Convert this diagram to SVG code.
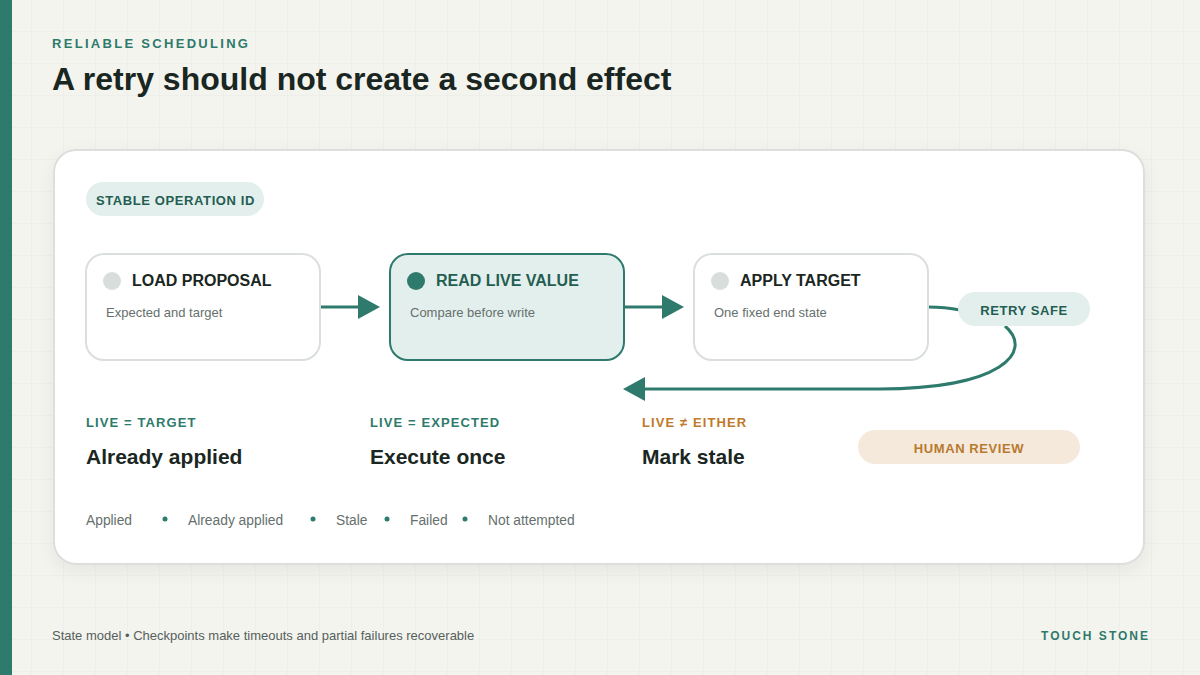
<svg xmlns="http://www.w3.org/2000/svg" width="1200" height="675" viewBox="0 0 1200 675">
<defs>
<pattern id="grid" width="32" height="32" patternUnits="userSpaceOnUse">
<path d="M32 0V32M0 32H32" fill="none" stroke="#e9ebe4" stroke-width="1"/>
</pattern>
<filter id="shadow" x="-10%" y="-10%" width="120%" height="130%">
<feDropShadow dx="0" dy="6" stdDeviation="8" flood-color="#1a2622" flood-opacity="0.06"/>
</filter>
<marker id="arrow" viewBox="0 0 22 24" refX="0" refY="12" markerWidth="22" markerHeight="24" markerUnits="userSpaceOnUse" orient="auto">
<path d="M0 0L22 12L0 24Z" fill="#2e7a6c"/>
</marker>
<style>
text{font-family:"Liberation Sans",Arial,sans-serif}
.kicker{font-size:13px;font-weight:700;letter-spacing:2.3px;fill:#2e7a6c}
.title{font-size:32px;font-weight:700;fill:#1a2622}
.node{fill:#fff;stroke:#dadfdc;stroke-width:2}
.node.active{fill:#e3efec;stroke:#2e7a6c}
.ntitle{font-size:16px;font-weight:700;fill:#1a2622}
.active .ntitle{fill:#245e52}
.nsub{font-size:13px;fill:#66706c}
.pill{fill:#e3efec}
.ptext{font-size:13px;font-weight:700;fill:#245e52;letter-spacing:0.6px}
.conn{fill:none;stroke:#2e7a6c;stroke-width:3}
.clabel{font-size:13px;font-weight:700;letter-spacing:1.1px;fill:#2e7a6c}
.clabel.warn{fill:#c07a2a}
.cvalue{font-size:21px;font-weight:700;fill:#1a2622}
.list{font-size:13.8px;fill:#66706c}
.dot{fill:#2e7a6c}
</style>
</defs>
<rect width="1200" height="675" fill="#f4f4ef"/>
<rect width="1200" height="675" fill="url(#grid)"/>
<rect x="0" y="0" width="12" height="675" fill="#2e7a6c"/>

<text x="52" y="48" class="kicker">RELIABLE SCHEDULING</text>
<text x="52" y="90" class="title">A retry should not create a second effect</text>

<rect x="54" y="150" width="1090" height="414" rx="22" fill="#fff" stroke="#dcdfdb" stroke-width="2" filter="url(#shadow)"/>

<g id="stable-id">
<rect x="86" y="182" width="178" height="34" rx="17" class="pill"/>
<text x="96" y="205" class="ptext">STABLE OPERATION ID</text>
</g>

<g id="connectors">
<path d="M320 307H358" class="conn" marker-end="url(#arrow)"/>
<path d="M624 307H662" class="conn" marker-end="url(#arrow)"/>
<path d="M928 307C942 307 950 308 960 310" class="conn"/>
<path d="M1005 326C1035 352 1000 389 880 389H645" class="conn" marker-end="url(#arrow)"/>
</g>

<g id="load-proposal">
<rect x="86" y="254" width="234" height="106" rx="18" class="node"/>
<circle cx="112" cy="281" r="9" fill="#d8dedb"/>
<text x="132" y="286" class="ntitle">LOAD PROPOSAL</text>
<text x="106" y="317" class="nsub">Expected and target</text>
</g>

<g id="read-live-value" class="active">
<rect x="390" y="254" width="234" height="106" rx="18" class="node active"/>
<circle cx="416" cy="281" r="9" fill="#2e7a6c"/>
<text x="436" y="286" class="ntitle">READ LIVE VALUE</text>
<text x="410" y="317" class="nsub">Compare before write</text>
</g>

<g id="apply-target">
<rect x="694" y="254" width="234" height="106" rx="18" class="node"/>
<circle cx="720" cy="281" r="9" fill="#d8dedb"/>
<text x="740" y="286" class="ntitle">APPLY TARGET</text>
<text x="714" y="317" class="nsub">One fixed end state</text>
</g>

<g id="retry-safe">
<rect x="958" y="292" width="132" height="34" rx="17" class="pill"/>
<text x="1024" y="315" class="ptext" text-anchor="middle">RETRY SAFE</text>
</g>

<g id="case-target">
<text x="86" y="427" class="clabel">LIVE = TARGET</text>
<text x="86" y="464" class="cvalue">Already applied</text>
</g>
<g id="case-expected">
<text x="370" y="427" class="clabel">LIVE = EXPECTED</text>
<text x="370" y="464" class="cvalue">Execute once</text>
</g>
<g id="case-either">
<text x="642" y="427" class="clabel warn">LIVE ≠ EITHER</text>
<text x="642" y="464" class="cvalue">Mark stale</text>
</g>
<g id="human-review">
<rect x="858" y="430" width="222" height="34" rx="17" fill="#f5e9dc"/>
<text x="969" y="453" class="ptext" text-anchor="middle" style="fill:#b87a2e">HUMAN REVIEW</text>
</g>

<g id="outcomes">
<text x="86" y="525" class="list">Applied</text>
<circle cx="165" cy="519" r="2.5" class="dot"/>
<text x="188" y="525" class="list">Already applied</text>
<circle cx="313" cy="519" r="2.5" class="dot"/>
<text x="336" y="525" class="list">Stale</text>
<circle cx="387" cy="519" r="2.5" class="dot"/>
<text x="410" y="525" class="list">Failed</text>
<circle cx="465" cy="519" r="2.5" class="dot"/>
<text x="488" y="525" class="list">Not attempted</text>
</g>

<text x="52" y="640" font-size="13" fill="#56605c">State model • Checkpoints make timeouts and partial failures recoverable</text>
<text x="1150" y="640" font-size="12" font-weight="700" letter-spacing="2" fill="#2e7a6c" text-anchor="end">TOUCH STONE</text>
</svg>
